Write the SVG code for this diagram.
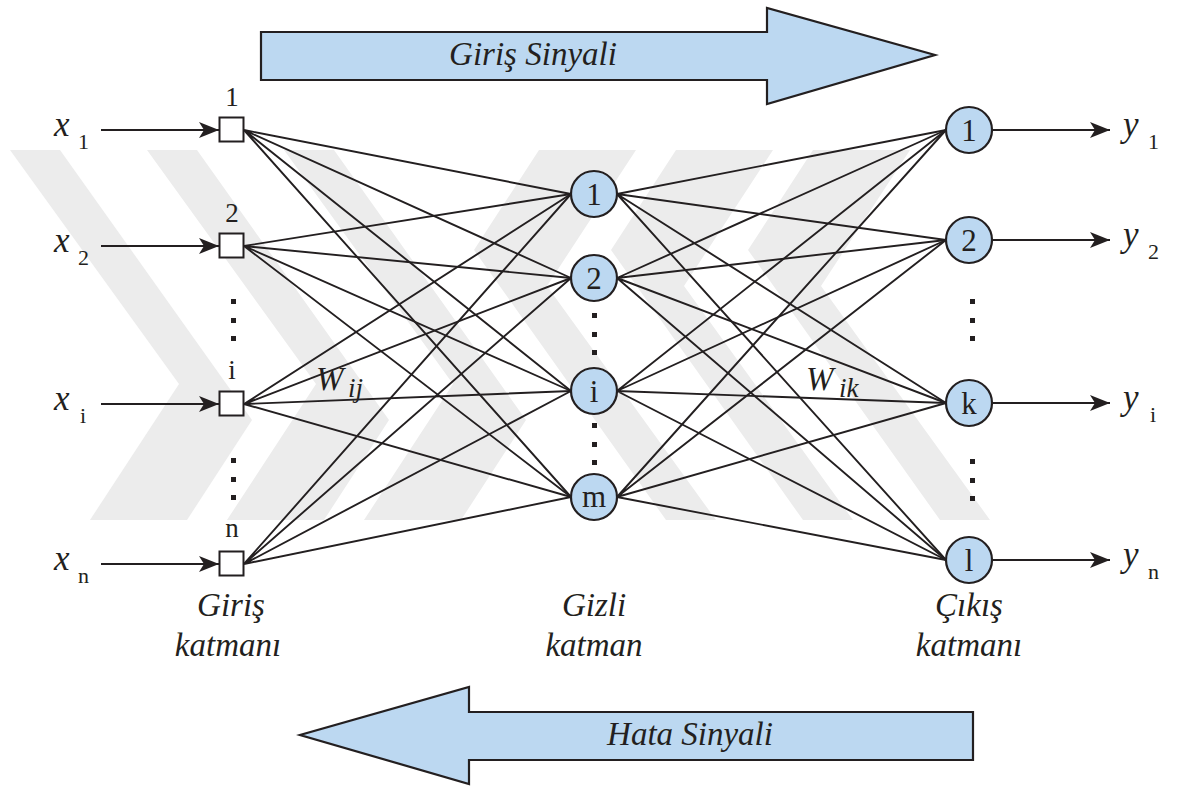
<svg xmlns="http://www.w3.org/2000/svg" width="1178" height="787" viewBox="0 0 1178 787">
  <style>
    .link { stroke: #231f20; stroke-width: 1.9; fill: none; }
    .feed { stroke: #231f20; stroke-width: 2.2; fill: none; }
    .inode { fill: #ffffff; stroke: #231f20; stroke-width: 2; }
    .neuron { fill: #bcd8f1; stroke: #231f20; stroke-width: 2.2; }
    .signal { fill: #bcd8f1; stroke: #231f20; stroke-width: 2.2; stroke-linejoin: miter; }
    .dot { fill: #231f20; }
    .wm { fill: #ececec; }
    text { font-family: "Liberation Serif", "DejaVu Serif", serif; fill: #231f20; }
    .num { font-size: 27px; text-anchor: middle; }
    .nl { font-size: 31px; text-anchor: middle; }
    .var { font-size: 35px; font-style: italic; }
    .sub { font-size: 22px; }
    .cap { font-size: 33px; font-style: italic; text-anchor: middle; }
    .w { font-size: 33px; font-style: italic; }
    .wsub { font-size: 27px; font-style: italic; }
  </style>
  <defs>
    <marker id="head" viewBox="0 0 20 16" refX="20" refY="8" markerWidth="20" markerHeight="16" markerUnits="userSpaceOnUse" orient="auto">
      <path d="M0,0 L20,8 L0,16 L5,8 Z" fill="#231f20"/>
    </marker>
  </defs>

  <!-- background watermark chevrons -->
  <g id="watermark">
    <polygon class="wm" points="10,150 60,150 252,420 187,520 90,520 179,384"/>
    <polygon class="wm" points="147,150 197,150 389,420 324,520 227,520 316,384"/>
    <polygon class="wm" points="284,150 334,150 526,420 461,520 364,520 453,384"/>
    <polygon class="wm" points="990,520 940,520 748,250 813,150 910,150 821,286"/>
    <polygon class="wm" points="853,520 803,520 611,250 676,150 773,150 684,286"/>
    <polygon class="wm" points="716,520 666,520 474,250 539,150 636,150 547,286"/>
  </g>

  <!-- signal direction arrows -->
  <g id="forward-signal">
    <polygon class="signal" points="261,32 767,32 767,8 935,55 767,104 767,80 261,80"/>
    <text class="cap" x="533" y="65">Giriş Sinyali</text>
  </g>
  <g id="error-signal">
    <polygon class="signal" points="973,712 469,712 469,687 300,735 469,784 469,760 973,760"/>
    <text class="cap" x="690" y="745">Hata Sinyali</text>
  </g>

  <!-- connectors -->
  <g id="connectors">
    <!-- inputs into input layer -->
    <line class="feed" x1="101" y1="130" x2="219" y2="130" marker-end="url(#head)"/>
    <line class="feed" x1="101" y1="246" x2="219" y2="246" marker-end="url(#head)"/>
    <line class="feed" x1="101" y1="404" x2="219" y2="404" marker-end="url(#head)"/>
    <line class="feed" x1="101" y1="564" x2="219" y2="564" marker-end="url(#head)"/>
    <!-- input layer to hidden layer -->
    <path class="link" d="M244,130 L571,194 M244,130 L571,278 M244,130 L571,391 M244,130 L571,497"/>
    <path class="link" d="M244,246 L571,194 M244,246 L571,278 M244,246 L571,391 M244,246 L571,497"/>
    <path class="link" d="M244,404 L571,194 M244,404 L571,278 M244,404 L571,391 M244,404 L571,497"/>
    <path class="link" d="M244,564 L571,194 M244,564 L571,278 M244,564 L571,391 M244,564 L571,497"/>
    <!-- hidden layer to output layer -->
    <path class="link" d="M617,194 L946,130 M617,194 L946,240 M617,194 L946,403 M617,194 L946,560"/>
    <path class="link" d="M617,278 L946,130 M617,278 L946,240 M617,278 L946,403 M617,278 L946,560"/>
    <path class="link" d="M617,391 L946,130 M617,391 L946,240 M617,391 L946,403 M617,391 L946,560"/>
    <path class="link" d="M617,497 L946,130 M617,497 L946,240 M617,497 L946,403 M617,497 L946,560"/>
    <!-- outputs -->
    <line class="feed" x1="992" y1="130" x2="1110" y2="130" marker-end="url(#head)"/>
    <line class="feed" x1="992" y1="240" x2="1110" y2="240" marker-end="url(#head)"/>
    <line class="feed" x1="992" y1="403" x2="1110" y2="403" marker-end="url(#head)"/>
    <line class="feed" x1="992" y1="560" x2="1110" y2="560" marker-end="url(#head)"/>
  </g>

  <!-- weight labels -->
  <g id="weights">
    <text class="w" x="316" y="390">W</text><text class="wsub" x="348" y="397">ij</text>
    <text class="w" x="806" y="390">W</text><text class="wsub" x="839" y="397">ik</text>
  </g>

  <!-- input variables -->
  <g id="inputs">
    <text class="var" x="54" y="136">x</text><text class="sub" x="78" y="149">1</text>
    <text class="var" x="54" y="252">x</text><text class="sub" x="78" y="265">2</text>
    <text class="var" x="54" y="410">x</text><text class="sub" x="80" y="423">i</text>
    <text class="var" x="54" y="570">x</text><text class="sub" x="78" y="583">n</text>
  </g>

  <!-- input layer -->
  <g id="in-1"><rect class="inode" x="219.5" y="117.5" width="24" height="24"/><text class="num" x="232" y="106">1</text></g>
  <g id="in-2"><rect class="inode" x="219.5" y="233.5" width="24" height="24"/><text class="num" x="232" y="222">2</text></g>
  <g id="in-i"><rect class="inode" x="219.5" y="391.5" width="24" height="24"/><text class="num" x="232" y="379">i</text></g>
  <g id="in-n"><rect class="inode" x="219.5" y="551.5" width="24" height="24"/><text class="num" x="232" y="537">n</text></g>
  <g id="in-dots">
    <rect class="dot" x="231" y="299" width="5" height="5"/>
    <rect class="dot" x="231" y="318" width="5" height="5"/>
    <rect class="dot" x="231" y="336" width="5" height="5"/>
    <rect class="dot" x="231" y="458" width="5" height="5"/>
    <rect class="dot" x="231" y="477" width="5" height="5"/>
    <rect class="dot" x="231" y="495" width="5" height="5"/>
  </g>

  <!-- hidden layer -->
  <g id="hid-1"><circle class="neuron" cx="594" cy="194" r="23"/><text class="nl" x="594" y="205">1</text></g>
  <g id="hid-2"><circle class="neuron" cx="594" cy="278" r="23"/><text class="nl" x="594" y="289">2</text></g>
  <g id="hid-i"><circle class="neuron" cx="594" cy="391" r="23"/><text class="nl" x="594" y="402">i</text></g>
  <g id="hid-m"><circle class="neuron" cx="594" cy="497" r="23"/><text class="nl" x="594" y="507">m</text></g>
  <g id="hid-dots">
    <rect class="dot" x="592" y="313" width="5" height="5"/>
    <rect class="dot" x="592" y="332" width="5" height="5"/>
    <rect class="dot" x="592" y="350" width="5" height="5"/>
    <rect class="dot" x="592" y="423" width="5" height="5"/>
    <rect class="dot" x="592" y="442" width="5" height="5"/>
    <rect class="dot" x="592" y="460" width="5" height="5"/>
  </g>

  <!-- output layer -->
  <g id="out-1"><circle class="neuron" cx="969" cy="130" r="23"/><text class="nl" x="969" y="141">1</text></g>
  <g id="out-2"><circle class="neuron" cx="969" cy="240" r="23"/><text class="nl" x="969" y="251">2</text></g>
  <g id="out-k"><circle class="neuron" cx="969" cy="403" r="23"/><text class="nl" x="969" y="414">k</text></g>
  <g id="out-l"><circle class="neuron" cx="969" cy="560" r="23"/><text class="nl" x="969" y="571">l</text></g>
  <g id="out-dots">
    <rect class="dot" x="970" y="299" width="5" height="5"/>
    <rect class="dot" x="970" y="318" width="5" height="5"/>
    <rect class="dot" x="970" y="336" width="5" height="5"/>
    <rect class="dot" x="970" y="459" width="5" height="5"/>
    <rect class="dot" x="970" y="478" width="5" height="5"/>
    <rect class="dot" x="970" y="496" width="5" height="5"/>
  </g>

  <!-- output variables -->
  <g id="outputs">
    <text class="var" x="1123" y="136">y</text><text class="sub" x="1148" y="149">1</text>
    <text class="var" x="1123" y="246">y</text><text class="sub" x="1148" y="259">2</text>
    <text class="var" x="1123" y="409">y</text><text class="sub" x="1150" y="422">i</text>
    <text class="var" x="1123" y="566">y</text><text class="sub" x="1148" y="579">n</text>
  </g>

  <!-- layer captions -->
  <g id="captions">
    <text class="cap" x="231" y="616">Giriş</text>
    <text class="cap" x="228" y="656">katmanı</text>
    <text class="cap" x="594" y="616">Gizli</text>
    <text class="cap" x="594" y="656">katman</text>
    <text class="cap" x="969" y="616">Çıkış</text>
    <text class="cap" x="969" y="656">katmanı</text>
  </g>
</svg>
